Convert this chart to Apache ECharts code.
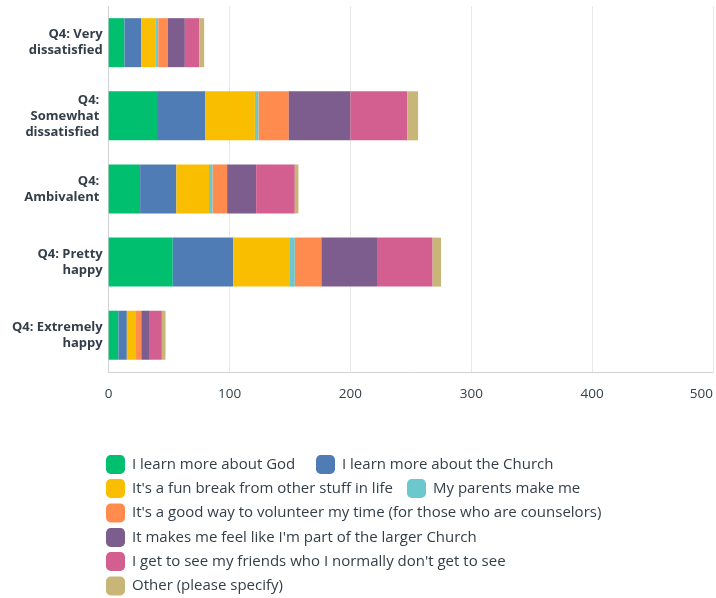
<!DOCTYPE html>
<html>
<head>
<meta charset="utf-8">
<script src="https://cdn.jsdelivr.net/npm/echarts@6/dist/echarts.min.js"></script>
<style>
  html, body { margin: 0; padding: 0; background: #ffffff; }
  #chart { width: 716px; height: 598px; }
</style>
</head>
<body>
<div id="chart"></div>
<script>
// Survey answers grouped by Q4 satisfaction level
const categories = [
  'Q4: Very\ndissatisfied',
  'Q4: \nSomewhat \ndissatisfied ',
  'Q4: \nAmbivalent ',
  'Q4: Pretty\nhappy',
  'Q4: Extremely\nhappy'
];

const seriesNames = [
  'I learn more about God',
  'I learn more about the Church',
  "It's a fun break from other stuff in life",
  'My parents make me',
  "It's a good way to volunteer my time (for those who are counselors)",
  "It makes me feel like I'm part of the larger Church",
  "I get to see my friends who I normally don't get to see",
  'Other (please specify)'
];

const learnGod       = [13, 40, 26, 53, 8];
const learnChurch    = [14, 40, 30, 50, 7];
const funBreak       = [12, 41, 27, 47, 7];
const parentsMakeMe  = [2, 3, 3, 4, 0];
const volunteer      = [8, 25, 12, 22, 5];
const largerChurch   = [14, 51, 24, 46, 7];
const seeFriends     = [12, 47, 32, 46, 10];
const other          = [4, 9, 3, 7, 3];

const xTicks = [0, 100, 200, 300, 400, 500];

const colors = ['#00bf6f', '#507cb6', '#f9be00', '#6bc8cd', '#ff8b4f', '#7d5c8e', '#d25f8f', '#c8b679'];

const values = [learnGod, learnChurch, funBreak, parentsMakeMe, volunteer, largerChurch, seeFriends, other];

const FONT = "'Open Sans', 'Noto Sans', sans-serif";
const TEXT = '#333e48';

// Legend entries are laid out one per box so that rows wrap the same way
const legendSlots = [
  { left: 106, top: 455 },
  { left: 316, top: 455 },
  { left: 106, top: 479 },
  { left: 407, top: 479 },
  { left: 106, top: 503.5 },
  { left: 106, top: 528 },
  { left: 106, top: 552 },
  { left: 106, top: 576.5 }
];

const chart = echarts.init(document.getElementById('chart'), null, { renderer: 'canvas' });

chart.setOption({
  animation: false,
  color: colors,
  textStyle: { fontFamily: FONT },
  grid: { left: 108.7, right: 0, top: 6.1, bottom: 226.2, containLabel: false },
  xAxis: {
    type: 'value',
    min: xTicks[0],
    max: xTicks[xTicks.length - 1],
    interval: 100,
    axisLine: { show: true, lineStyle: { color: '#d0d2d3', width: 1 } },
    axisTick: { show: false },
    splitLine: { show: true, lineStyle: { color: '#e8e8e8', width: 1 } },
    axisLabel: {
      color: TEXT, fontSize: 13.5, margin: 15, fontFamily: FONT,
      alignMaxLabel: 'right'
    }
  },
  yAxis: {
    type: 'category',
    inverse: true,
    data: categories,
    axisLine: { show: true, lineStyle: { color: '#d0d2d3', width: 1 } },
    axisTick: { show: false },
    axisLabel: {
      color: TEXT, fontSize: 13, fontWeight: 'bold', lineHeight: 16,
      margin: 6, fontFamily: FONT, align: 'right'
    }
  },
  legend: seriesNames.map((name, i) => ({
    data: [name],
    left: legendSlots[i].left,
    top: legendSlots[i].top,
    orient: 'horizontal',
    padding: 0,
    itemWidth: 19,
    itemHeight: 19,
    icon: 'roundRect',
    selectedMode: false,
    textStyle: { color: TEXT, fontSize: 15, fontFamily: FONT, padding: [0, 0, 0, 2] }
  })),
  series: seriesNames.map((name, i) => ({
    name: name,
    type: 'bar',
    stack: 'total',
    barWidth: 49,
    data: values[i],
    itemStyle: { color: colors[i] },
    emphasis: { disabled: true }
  }))
});
</script>
</body>
</html>
